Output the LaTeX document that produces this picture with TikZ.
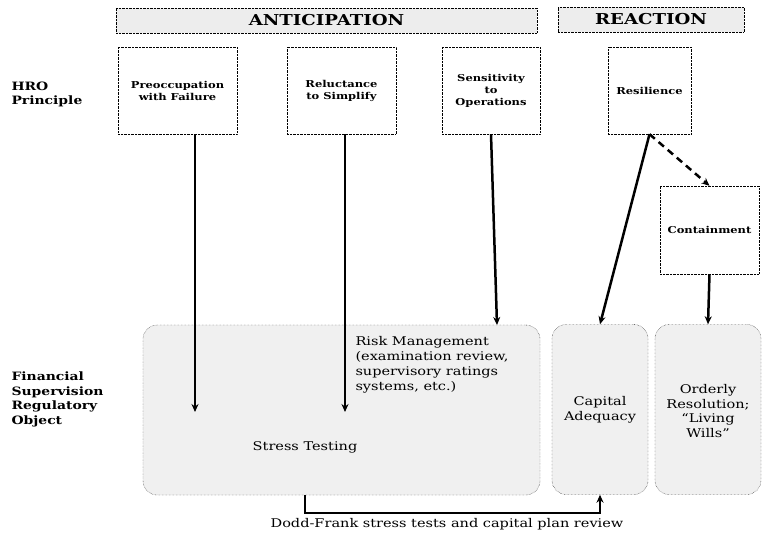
\documentclass[tikz,border=0pt]{standalone}
\usepackage{fontspec}
\setmainfont{DejaVu Serif}[FakeStretch=1.21]
\usetikzlibrary{arrows.meta, positioning, calc}

\begin{document}
\begin{tikzpicture}[x=1pt, y=-1pt,
  banner/.style={draw, densely dotted, fill=black!7, minimum height=25pt,
                 minimum width=#1, font=\fontsize{15}{17}\selectfont\bfseries},
  banner/.default=120pt,
  principle/.style={draw, densely dotted, minimum height=87pt, minimum width=#1,
                    align=center, font=\fontsize{9.5}{12}\selectfont\bfseries},
  principle/.default=100pt,
  regobj/.style={draw, densely dotted, rounded corners=14pt, fill=black!6,
                 minimum height=170pt, minimum width=#1},
  regobj/.default=100pt,
  lbl/.style={align=#1, font=\fontsize{12}{15}\selectfont},
  lbl/.default=center,
  side/.style={align=left, anchor=west, font=\fontsize{11.5}{14.5}\selectfont\bfseries},
  arr/.style={-{Stealth[length=8pt, width=7pt]}, line width=2.5pt},
]
  \useasboundingbox (0,0) rectangle (762,534);

  % banners
  \node[banner=421pt] (antic) at (326.5,20.5) {ANTICIPATION};
  \node[banner=186pt] (react) at (651,19.5)   {REACTION};

  % HRO principles
  \node[principle=119pt] (pre) at (177.5,90.5) {Preoccupation\\with Failure};
  \node[principle=109pt] (rel) at (341.5,90.5) {Reluctance\\to Simplify};
  \node[principle=98pt]  (sen) at (491,90.5)   {Sensitivity\\to\\Operations};
  \node[principle=83pt]  (res) at (649.5,90.5) {Resilience};
  \node[principle=99pt, minimum height=88pt] (con) at (709.5,230) {Containment};

  % regulatory objects
  \node[regobj=397pt] (risk) at (341.5,410) {};
  \node[regobj=96pt]  (cap)  at (600,409.5) {};
  \node[regobj=106pt] (ord)  at (708,409.5) {};

  \node[lbl=left, anchor=north west] (riskTxt) at (352,333)
    {Risk Management\\(examination review,\\supervisory ratings\\systems, etc.)};
  \node[lbl] (stress) at (305,447) {Stress Testing};
  \node[lbl] (capTxt) at (600,410) {Capital\\Adequacy};
  \node[lbl, font=\fontsize{12}{14.5}\selectfont] (ordTxt) at (708,411)
    {Orderly\\Resolution;\\“Living\\Wills”};

  % row labels
  \node[side] (hro) at (8,94.5) {HRO\\Principle};
  \node[side] (fin) at (8,399.5) {Financial\\Supervision\\Regulatory\\Object};

  % connectors
  \coordinate (preIn) at (195,412);
  \coordinate (relIn) at (345,412);
  \coordinate (senIn) at (497,325);
  \draw[arr] (pre.south -| preIn) -- (preIn);
  \draw[arr] (rel.south -| relIn) -- (relIn);
  \draw[arr] (sen.south) -- (senIn);
  \draw[arr] (res.south) -- (cap.north);
  \draw[arr, dash pattern=on 7pt off 5pt] (res.south) -- (con.north);
  \draw[arr] (con.south) -- (ord.north);

  \coordinate (ddBend) at (305,513);
  \draw[arr] (stress |- risk.south) -- (ddBend) -| (cap.south);
  \node[lbl] (dodd) at (447,524) {Dodd-Frank stress tests and capital plan review};
\end{tikzpicture}
\end{document}
